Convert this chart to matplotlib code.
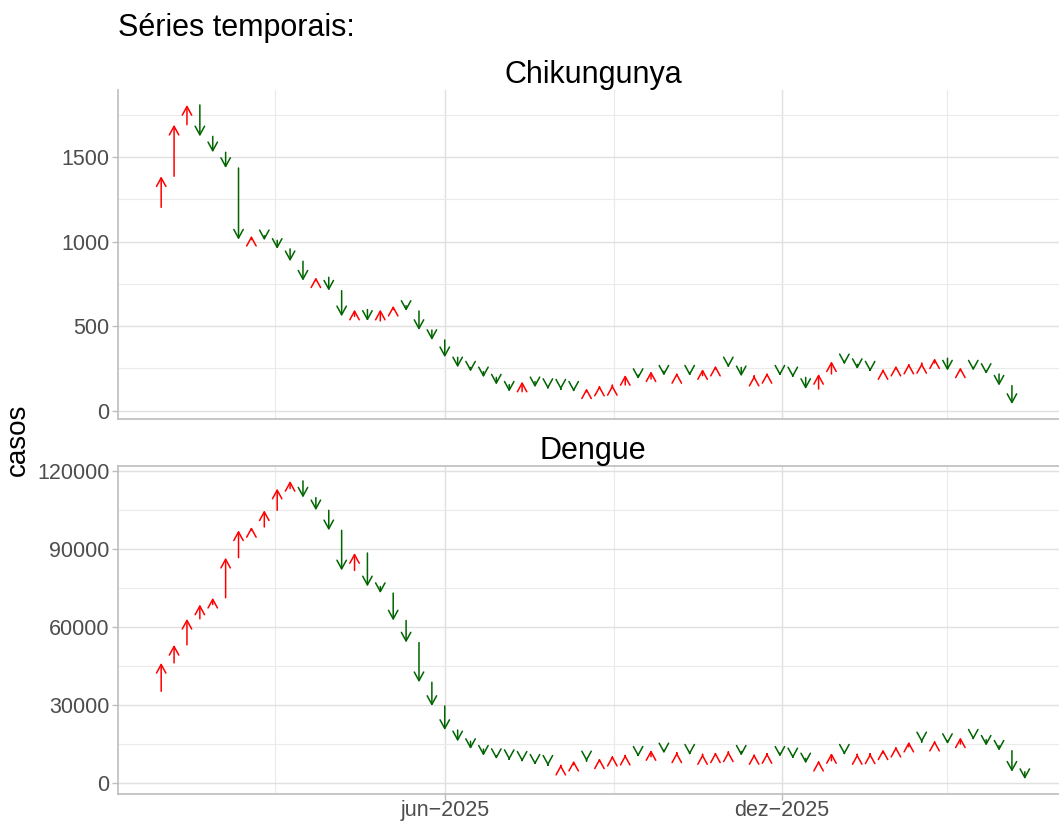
import matplotlib
matplotlib.use('Agg')
import matplotlib.pyplot as plt
import matplotlib.dates as mdates
from matplotlib.ticker import MultipleLocator, FixedLocator, FixedFormatter
import numpy as np
import pandas as pd

# weekly counts; first value is the week before the first arrow (arrow tail)
semanas = pd.date_range('2024-12-22', periods=69, freq='7D')

chik_casos = [1203, 1387, 1692, 1809, 1623, 1529, 1436, 1012, 1035, 1008, 957, 884,
              769, 789, 710, 558, 598, 531, 598, 621, 590, 477, 418, 316, 256, 231,
              197, 154, 112, 172, 138, 128, 124, 112, 132, 148, 152, 211, 187, 233,
              207, 223, 207, 246, 266, 256, 203, 207, 223, 207, 197, 128, 217, 292,
              274, 246, 231, 246, 266, 278, 282, 310, 237, 256, 237, 217, 148, 39]

dengue_casos = [35385, 46280, 53200, 63200, 68700, 71280, 86660, 97180, 98460, 104870,
                113200, 116150, 109740, 104870, 97180, 81790, 88460, 75640, 73080,
                62560, 54100, 38850, 29740, 20510, 16150, 13200, 10640, 9360, 8970,
                8330, 7180, 6800, 7200, 8720, 8460, 9620, 10640, 11030, 10260, 12820,
                11540, 11920, 11030, 11280, 11920, 12300, 10640, 11280, 11670, 10260,
                9620, 7690, 8720, 11670, 11030, 11280, 11540, 13080, 14100, 16030,
                15770, 16410, 15130, 17690, 16800, 14490, 12560, 4490, 1670]

x_major = ['2025-06-01', '2025-12-01']
x_major_labels = ['jun\u22122025', 'dez\u22122025']
x_minor = ['2025-03-01', '2025-09-01', '2026-03-01']

COR_SOBE = '#FF0000'
COR_DESCE = '#006400'
GRID = '#E0E0E0'
EIXO = '#BDBDBD'
TXT = '#4D4D4D'

plt.rcParams['font.family'] = ['Liberation Sans', 'DejaVu Sans']

W, H = 1059, 823
fig = plt.figure(figsize=(W / 100, H / 100), dpi=100)

def box(left, top, right, bottom):
    return [left / W, 1 - bottom / H, (right - left) / W, (bottom - top) / H]

ax1 = fig.add_axes(box(118, 90, 1068, 419))
ax2 = fig.add_axes(box(118, 466, 1068, 794))

datas = mdates.date2num(semanas.to_pydatetime())
xmin_all, xmax_all = datas[1], datas[len(dengue_casos) - 1]
pad_x = 0.05 * (xmax_all - xmin_all)


def painel(ax, valores, titulo, maj, minr, title_y):
    valores = np.asarray(valores, dtype=float)
    n = len(valores) - 1
    for i in range(n):
        y0, y1 = valores[i], valores[i + 1]
        x = datas[i + 1]
        cor = COR_SOBE if y1 > y0 else COR_DESCE
        ax.annotate('', xy=(x, y1), xytext=(x, y0),
                    arrowprops=dict(arrowstyle='->,head_length=0.62,head_width=0.34',
                                    color=cor, lw=1.1, shrinkA=0, shrinkB=0))
    lo, hi = valores.min(), valores.max()
    pad = 0.05 * (hi - lo)
    ax.set_ylim(lo - pad, hi + pad)
    ax.set_xlim(xmin_all - pad_x, xmax_all + pad_x)
    ax.yaxis.set_major_locator(MultipleLocator(maj))
    ax.yaxis.set_minor_locator(MultipleLocator(minr))
    ax.xaxis.set_major_locator(FixedLocator(mdates.datestr2num(x_major)))
    ax.xaxis.set_minor_locator(FixedLocator(mdates.datestr2num(x_minor)))
    ax.grid(True, which='major', color=GRID, lw=1.0)
    ax.grid(True, which='minor', color='#EAEAEA', lw=0.8)
    ax.set_axisbelow(True)
    for s in ['top', 'right']:
        ax.spines[s].set_visible(False)
    for s in ['left', 'bottom']:
        ax.spines[s].set_color(EIXO)
        ax.spines[s].set_linewidth(1.2)
    ax.tick_params(axis='both', which='major', colors=EIXO, labelcolor=TXT,
                   labelsize=15.5, length=4, width=1.0, pad=2)
    ax.tick_params(axis='both', which='minor', length=0)
    fig.text(593 / W, 1 - title_y / H, titulo, ha='center', va='baseline',
             fontsize=22, color='black')


painel(ax1, chik_casos, 'Chikungunya', 500, 250, 83)
painel(ax2, dengue_casos, 'Dengue', 30000, 15000, 459)

ax1.tick_params(axis='x', which='major', labelbottom=False, length=0)
ax2.tick_params(axis='x', which='major', pad=0.5)
ax2.xaxis.set_major_formatter(FixedFormatter(x_major_labels))
ax2.spines['top'].set_visible(True)
ax2.spines['top'].set_color(EIXO)
ax2.spines['top'].set_linewidth(1.2)

fig.text(118 / W, 1 - 36 / H, 'S\u00e9ries temporais:', ha='left', va='baseline',
         fontsize=22, color='black')
fig.text(18 / W, 1 - 440 / H, 'casos', rotation=90, ha='center', va='center',
         fontsize=20, color='black')

fig.savefig('out.png', dpi=100, facecolor='white')
